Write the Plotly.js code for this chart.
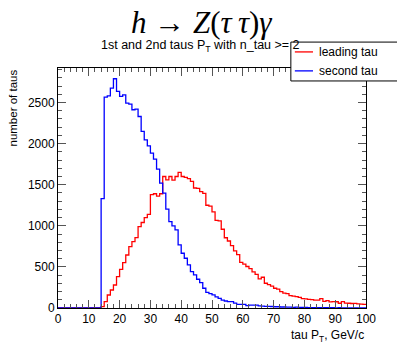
<!DOCTYPE html>
<html>
<head>
<meta charset="utf-8">
<script src="https://cdn.plot.ly/plotly-3.0.1.min.js"></script>
<style>html,body{margin:0;padding:0;background:#fff;}#chart{width:397px;height:343px;}</style>
</head>
<body>
<div id="chart"></div>
<script>
// Histogram: 100 bins of 1 GeV from 0 to 100 (low edges 0..99)
const binLowEdges = Array.from({length: 100}, (_, i) => i);
const binWidth = 1;

const leadingTau = [
  0,0,0,0,0,0,0,0,0,0,
  0,0,0,0,16,77,158,219,280,381,
  471,552,645,747,808,857,991,1040,1100,1140,
  1380,1390,1360,1390,1600,1560,1600,1555,1600,1650,
  1600,1590,1575,1540,1460,1455,1415,1395,1250,1240,
  1170,1065,1060,958,855,815,760,695,650,555,
  535,505,480,440,410,355,374,301,285,265,
  240,230,200,182,175,150,145,138,130,115,
  110,105,103,97,95,115,80,90,75,78,
  76,58,78,60,58,55,56,50,48,45
];

const secondTau = [
  0,0,0,0,0,0,0,0,0,0,
  0,0,0,0,1330,2566,2582,2675,2789,2635,
  2574,2594,2493,2481,2412,2420,2330,2148,2046,1973,
  1884,1811,1689,1519,1397,1202,1051,999,950,767,
  666,605,524,442,402,350,309,240,190,175,
  160,135,118,97,85,77,77,60,45,45,
  45,30,36,36,36,25,22,20,20,18,
  15,15,12,12,10,10,8,10,8,6,
  6,5,5,4,5,4,3,4,3,3,
  2,3,2,2,2,1,2,1,1,1
];

const seriesNames = ['leading tau', 'second tau'];
const seriesColors = ['#ff0000', '#0000ff'];

function stepTrace(counts, name, color) {
  const xs = binLowEdges.concat([binLowEdges[binLowEdges.length - 1] + binWidth]);
  const ys = counts.concat([counts[counts.length - 1]]);
  return {
    x: xs, y: ys, name: name, type: 'scatter', mode: 'lines',
    line: {shape: 'hv', color: color, width: 1.3},
    hoverinfo: 'skip', showlegend: false
  };
}

const data = [
  stepTrace(leadingTau, seriesNames[0], seriesColors[0]),
  stepTrace(secondTau, seriesNames[1], seriesColors[1])
];

const font = 'Liberation Sans, Arial, Helvetica, sans-serif';

// Legend box (ROOT TLegend style), drawn in paper coordinates
const legendBox = {x0: 0.756, x1: 1.104, y0: 0.946, y1: 1.108};
const legendRows = [1.067, 0.988];

const shapes = [
  {type: 'rect', xref: 'paper', yref: 'paper', x0: legendBox.x0, x1: legendBox.x1,
   y0: legendBox.y0, y1: legendBox.y1, line: {color: '#000', width: 1}, fillcolor: '#ffffff', layer: 'above'}
];
const annotations = [
  {
    text: '<i>h</i>&nbsp;→&nbsp;<i>Z</i>(<i>τ&#8201;τ</i>)<i>γ</i>',
    xref: 'paper', yref: 'paper', x: 0.465, y: 1.19, xanchor: 'center', yanchor: 'middle',
    showarrow: false, font: {family: 'Liberation Serif, DejaVu Serif, serif', size: 31, color: '#000'}
  },
  {
    text: '1st and 2nd taus P<sub>T</sub> with n_tau >= 2',
    xref: 'paper', yref: 'paper', x: 0.462, y: 1.09, xanchor: 'center', yanchor: 'middle',
    showarrow: false, font: {family: font, size: 12.5, color: '#000'}
  },
  {
    text: 'number of taus',
    xref: 'paper', yref: 'paper', x: 0, y: 1, xanchor: 'right', yanchor: 'top',
    xshift: -38, textangle: -90,
    showarrow: false, font: {family: font, size: 11.5, color: '#000'}
  },
  {
    text: 'tau P<sub>T</sub>, GeV/c',
    xref: 'paper', yref: 'paper', x: 1, y: 0, xanchor: 'right', yanchor: 'top',
    yshift: -18,
    showarrow: false, font: {family: font, size: 12, color: '#000'}
  }
];
seriesNames.forEach((name, i) => {
  shapes.push({type: 'line', xref: 'paper', yref: 'paper', x0: 0.769, x1: 0.828,
    y0: legendRows[i], y1: legendRows[i], line: {color: seriesColors[i], width: 1.3}, layer: 'above'});
  annotations.push({text: name, xref: 'paper', yref: 'paper', x: 0.842, y: legendRows[i],
    xanchor: 'left', yanchor: 'middle', showarrow: false,
    font: {family: font, size: 12, color: '#000'}});
});

const layout = {
  width: 397, height: 343,
  margin: {l: 58, r: 31, t: 68, b: 35},
  paper_bgcolor: '#ffffff', plot_bgcolor: '#ffffff',
  font: {family: font, size: 12, color: '#000'},
  showlegend: false,
  xaxis: {
    range: [0, 100], autorange: false,
    showgrid: false, zeroline: false,
    showline: true, linecolor: '#000', linewidth: 1, mirror: 'ticks',
    ticks: 'inside', ticklen: 8, tickcolor: '#555', tickwidth: 1,
    dtick: 10, tick0: 0,
    minor: {dtick: 2, ticks: 'inside', ticklen: 4, tickcolor: '#555', showgrid: false},
    tickfont: {family: font, size: 12, color: '#000'}
  },
  yaxis: {
    range: [0, 2920], autorange: false,
    showgrid: false, zeroline: false,
    showline: true, linecolor: '#000', linewidth: 1, mirror: 'ticks',
    ticks: 'inside', ticklen: 8, tickcolor: '#555', tickwidth: 1,
    dtick: 500, tick0: 0,
    minor: {dtick: 100, ticks: 'inside', ticklen: 4, tickcolor: '#555', showgrid: false},
    tickfont: {family: font, size: 12, color: '#000'}
  },
  shapes: shapes,
  annotations: annotations
};

Plotly.newPlot('chart', data, layout, {displayModeBar: false, staticPlot: true});
</script>
</body>
</html>
